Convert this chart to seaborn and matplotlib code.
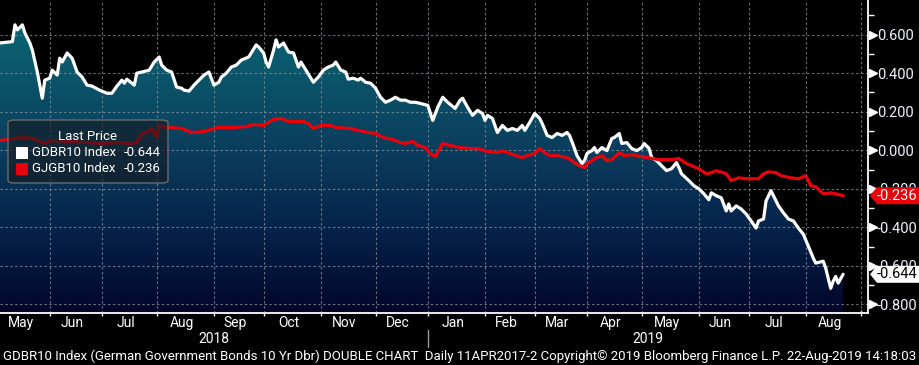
import numpy as np
import pandas as pd
import matplotlib
matplotlib.use("Agg")
import matplotlib.pyplot as plt
import matplotlib.transforms as mtransforms
from matplotlib.patches import Polygon, FancyBboxPatch, Rectangle
from matplotlib.colors import LinearSegmentedColormap
import seaborn as sns

# ---------------- data ----------------
gdbr_dates = [
    "2018-05-04", "2018-05-08", "2018-05-11", "2018-05-14", "2018-05-15", "2018-05-17", "2018-05-18",
    "2018-05-22", "2018-05-23", "2018-05-25", "2018-05-29", "2018-05-30", "2018-06-01", "2018-06-04",
    "2018-06-06", "2018-06-07", "2018-06-08", "2018-06-12", "2018-06-14", "2018-06-18", "2018-06-20",
    "2018-06-22", "2018-06-26", "2018-06-29", "2018-07-04", "2018-07-06", "2018-07-10", "2018-07-12",
    "2018-07-13", "2018-07-16", "2018-07-18", "2018-07-19", "2018-07-20", "2018-07-24", "2018-07-27",
    "2018-07-31", "2018-08-02", "2018-08-03", "2018-08-07", "2018-08-09", "2018-08-13", "2018-08-15",
    "2018-08-16", "2018-08-20", "2018-08-22", "2018-08-24", "2018-08-28", "2018-08-30", "2018-09-03",
    "2018-09-05", "2018-09-06", "2018-09-10", "2018-09-12", "2018-09-14", "2018-09-18", "2018-09-21",
    "2018-09-24", "2018-09-26", "2018-09-27", "2018-10-01", "2018-10-02", "2018-10-03", "2018-10-05",
    "2018-10-08", "2018-10-09", "2018-10-11", "2018-10-15", "2018-10-17", "2018-10-19", "2018-10-22",
    "2018-10-24", "2018-10-29", "2018-10-31", "2018-11-02", "2018-11-06", "2018-11-08", "2018-11-09",
    "2018-11-13", "2018-11-15", "2018-11-16", "2018-11-20", "2018-11-22", "2018-11-23", "2018-11-27",
    "2018-11-29", "2018-12-03", "2018-12-05", "2018-12-07", "2018-12-11", "2018-12-13", "2018-12-17",
    "2018-12-19", "2018-12-21", "2018-12-25", "2018-12-27", "2019-01-01", "2019-01-03", "2019-01-07",
    "2019-01-09", "2019-01-11", "2019-01-16", "2019-01-18", "2019-01-21", "2019-01-23", "2019-01-25",
    "2019-01-29", "2019-01-31", "2019-02-01", "2019-02-04", "2019-02-06", "2019-02-08", "2019-02-12",
    "2019-02-14", "2019-02-18", "2019-02-20", "2019-02-22", "2019-02-25", "2019-02-27", "2019-03-01",
    "2019-03-05", "2019-03-06", "2019-03-08", "2019-03-12", "2019-03-14", "2019-03-18", "2019-03-20",
    "2019-03-21", "2019-03-25", "2019-03-26", "2019-03-28", "2019-03-29", "2019-04-01", "2019-04-03",
    "2019-04-04", "2019-04-05", "2019-04-09", "2019-04-11", "2019-04-15", "2019-04-16", "2019-04-18",
    "2019-04-19", "2019-04-23", "2019-04-25", "2019-04-29", "2019-05-01", "2019-05-02", "2019-05-06",
    "2019-05-07", "2019-05-09", "2019-05-13", "2019-05-15", "2019-05-17", "2019-05-21", "2019-05-22",
    "2019-05-23", "2019-05-28", "2019-05-30", "2019-06-03", "2019-06-05", "2019-06-07", "2019-06-10",
    "2019-06-12", "2019-06-14", "2019-06-18", "2019-06-19", "2019-06-20", "2019-06-24", "2019-06-26",
    "2019-06-28", "2019-07-02", "2019-07-04", "2019-07-05", "2019-07-09", "2019-07-10", "2019-07-12",
    "2019-07-15", "2019-07-17", "2019-07-19", "2019-07-23", "2019-07-25", "2019-07-29", "2019-07-31",
    "2019-08-02", "2019-08-06", "2019-08-07", "2019-08-12", "2019-08-13", "2019-08-15", "2019-08-16",
    "2019-08-19", "2019-08-20", "2019-08-22",
]
gdbr_values = [
    0.557, 0.560, 0.564, 0.651, 0.625, 0.651, 0.609,
    0.557, 0.520, 0.406, 0.270, 0.364, 0.374, 0.416,
    0.390, 0.478, 0.458, 0.505, 0.478, 0.406, 0.380,
    0.338, 0.333, 0.312, 0.296, 0.296, 0.333, 0.364,
    0.348, 0.369, 0.348, 0.338, 0.400, 0.406, 0.416,
    0.458, 0.484, 0.442, 0.416, 0.406, 0.328, 0.322,
    0.312, 0.307, 0.338, 0.364, 0.390, 0.406, 0.338,
    0.353, 0.380, 0.400, 0.432, 0.442, 0.468, 0.484,
    0.505, 0.547, 0.536, 0.505, 0.458, 0.432, 0.520,
    0.573, 0.536, 0.557, 0.510, 0.505, 0.432, 0.458,
    0.416, 0.353, 0.380, 0.416, 0.432, 0.442, 0.458,
    0.416, 0.406, 0.369, 0.374, 0.364, 0.374, 0.353,
    0.348, 0.322, 0.275, 0.249, 0.260, 0.275, 0.260,
    0.260, 0.249, 0.249, 0.243, 0.233, 0.155, 0.223,
    0.275, 0.249, 0.217, 0.260, 0.270, 0.223, 0.181,
    0.207, 0.191, 0.155, 0.181, 0.165, 0.092, 0.129,
    0.103, 0.113, 0.103, 0.129, 0.103, 0.145, 0.191,
    0.165, 0.139, 0.077, 0.066, 0.087, 0.077, 0.092,
    0.077, 0.009, -0.028, -0.069, -0.054, -0.017, -0.002,
    0.014, -0.012, 0.014, -0.002, 0.061, 0.066, 0.087,
    0.035, 0.040, 0.009, -0.002, 0.014, 0.035, 0.009,
    -0.038, -0.054, -0.080, -0.106, -0.096, -0.064, -0.090,
    -0.122, -0.158, -0.184, -0.200, -0.226, -0.257, -0.221,
    -0.236, -0.247, -0.315, -0.279, -0.315, -0.289, -0.305,
    -0.331, -0.367, -0.404, -0.367, -0.357, -0.263, -0.210,
    -0.236, -0.289, -0.325, -0.357, -0.367, -0.404, -0.436,
    -0.498, -0.560, -0.586, -0.576, -0.612, -0.717, -0.680,
    -0.655, -0.690, -0.644,
]
gjgb_dates = [
    "2018-05-04", "2018-05-10", "2018-05-17", "2018-05-23", "2018-05-30", "2018-06-04", "2018-06-12",
    "2018-06-22", "2018-06-29", "2018-07-10", "2018-07-18", "2018-07-20", "2018-07-24", "2018-07-26",
    "2018-07-30", "2018-08-01", "2018-08-02", "2018-08-06", "2018-08-09", "2018-08-15", "2018-08-21",
    "2018-08-28", "2018-09-03", "2018-09-05", "2018-09-13", "2018-09-20", "2018-09-25", "2018-10-01",
    "2018-10-05", "2018-10-10", "2018-10-15", "2018-10-23", "2018-10-25", "2018-10-29", "2018-11-01",
    "2018-11-07", "2018-11-09", "2018-11-19", "2018-11-26", "2018-12-03", "2018-12-06", "2018-12-12",
    "2018-12-17", "2018-12-19", "2018-12-24", "2018-12-26", "2018-12-31", "2019-01-02", "2019-01-04",
    "2019-01-09", "2019-01-14", "2019-01-18", "2019-01-24", "2019-01-29", "2019-02-04", "2019-02-08",
    "2019-02-12", "2019-02-15", "2019-02-22", "2019-02-26", "2019-03-01", "2019-03-05", "2019-03-07",
    "2019-03-11", "2019-03-14", "2019-03-20", "2019-03-25", "2019-03-27", "2019-03-29", "2019-04-01",
    "2019-04-03", "2019-04-05", "2019-04-09", "2019-04-11", "2019-04-15", "2019-04-18", "2019-04-22",
    "2019-04-25", "2019-05-03", "2019-05-10", "2019-05-17", "2019-05-22", "2019-05-27", "2019-05-29",
    "2019-06-03", "2019-06-06", "2019-06-10", "2019-06-12", "2019-06-18", "2019-06-20", "2019-06-25",
    "2019-06-28", "2019-07-02", "2019-07-05", "2019-07-09", "2019-07-11", "2019-07-16", "2019-07-18",
    "2019-07-24", "2019-07-29", "2019-08-01", "2019-08-05", "2019-08-07", "2019-08-12", "2019-08-15",
    "2019-08-19", "2019-08-22",
]
gjgb_values = [
    0.051, 0.056, 0.066, 0.061, 0.035, 0.051, 0.046,
    0.040, 0.035, 0.040, 0.035, 0.040, 0.087, 0.092,
    0.113, 0.066, 0.129, 0.118, 0.118, 0.113, 0.092,
    0.097, 0.113, 0.118, 0.118, 0.123, 0.134, 0.129,
    0.160, 0.165, 0.149, 0.149, 0.139, 0.113, 0.129,
    0.129, 0.118, 0.113, 0.097, 0.087, 0.066, 0.056,
    0.040, 0.035, 0.046, 0.025, 0.014, -0.017, -0.033,
    0.035, 0.025, 0.014, 0.009, 0.009, -0.007, -0.012,
    -0.002, -0.017, -0.038, -0.028, -0.017, 0.009, -0.012,
    -0.028, -0.028, -0.038, -0.064, -0.080, -0.090, -0.069,
    -0.054, -0.038, -0.028, -0.054, -0.049, -0.012, -0.028,
    -0.023, -0.038, -0.049, -0.049, -0.043, -0.069, -0.080,
    -0.096, -0.122, -0.117, -0.106, -0.122, -0.158, -0.143,
    -0.148, -0.148, -0.148, -0.122, -0.112, -0.117, -0.132,
    -0.143, -0.148, -0.132, -0.184, -0.190, -0.226, -0.221,
    -0.226, -0.236,
]
gdbr_name = "GDBR10 Index"
gjgb_name = "GJGB10 Index"
legend_title = "Last Price"
month_starts = [
    "2018-05-01", "2018-06-01", "2018-07-01", "2018-08-01", "2018-09-01", "2018-10-01",
    "2018-11-01", "2018-12-01", "2019-01-01", "2019-02-01", "2019-03-01", "2019-04-01",
    "2019-05-01", "2019-06-01", "2019-07-01", "2019-08-01", "2019-09-01",
]
month_labels = ["May", "Jun", "Jul", "Aug", "Sep", "Oct", "Nov", "Dec",
                "Jan", "Feb", "Mar", "Apr", "May", "Jun", "Jul", "Aug"]
year_labels = ["2018", "2019"]
year_starts = ["2018-01-01", "2019-01-01", "2020-01-01"]
y_ticks = [0.6, 0.4, 0.2, 0.0, -0.2, -0.4, -0.6, -0.8]
y_minor = [0.7, 0.5, 0.3, 0.1, -0.1, -0.3, -0.5, -0.7]
footer = ("GDBR10 Index (German Government Bonds 10 Yr Dbr) DOUBLE CHART  Daily 11APR2017-2 "
          "Copyright\u00a9 2019 Bloomberg Finance L.P. 22-Aug-2019 14:18:03")

# ---------------- helpers ----------------
START = np.datetime64("2018-05-04")


def tday(dates):
    d = np.array(dates, dtype="datetime64[D]")
    d = np.busday_offset(d, 0, roll="forward")
    return np.busday_count(START, d).astype(float)


XMIN, XMAX = 0.0, 349.0
YMIN, YMAX = -0.845, 0.780

df_w = pd.DataFrame({"t": tday(gdbr_dates), "v": gdbr_values})
df_r = pd.DataFrame({"t": tday(gjgb_dates), "v": gjgb_values})

sns.set_theme(style="dark", rc={
    "axes.facecolor": "black", "figure.facecolor": "black",
    "axes.unicode_minus": False, "axes.grid": False,
})
plt.rcParams["font.family"] = ["Roboto", "DejaVu Sans"]
FONT = ["Roboto", "DejaVu Sans"]

fig = plt.figure(figsize=(9.2, 3.65), dpi=100, facecolor="black")
ax = fig.add_axes([0, 52 / 365, 868 / 920, 313 / 365])
ax.set_facecolor("black")

# gradient area under the Bund line
cmap = LinearSegmentedColormap.from_list("bb", [
    (0.00, "#03062a"), (0.27, "#06234a"), (0.52, "#0b3d5d"), (0.88, "#0a6170"), (1.00, "#0c6c78")])
grad = np.linspace(0, 1, 256).reshape(-1, 1)
im = ax.imshow(grad, extent=[XMIN, XMAX, YMIN, YMAX], origin="lower", aspect="auto",
               cmap=cmap, zorder=1, interpolation="bilinear")
poly = ax.fill_between(df_w["t"], df_w["v"], YMIN, facecolor="none", edgecolor="none")
im.set_clip_path(poly.get_paths()[0], transform=ax.transData)

# grid
bounds = tday(month_starts)
grid_kw = dict(color="#8a949e", lw=0.8, ls=(0, (2.2, 2.2)), alpha=0.75, zorder=2)
for y in y_ticks:
    ax.axhline(y, **grid_kw)
for xb in bounds[1:]:
    ax.axvline(xb, **grid_kw)

# lines
sns.lineplot(data=df_w, x="t", y="v", color="white", lw=2.3, ax=ax, zorder=3,
             estimator=None, sort=False)
sns.lineplot(data=df_r, x="t", y="v", color="#e8000b", lw=2.3, ax=ax, zorder=4,
             estimator=None, sort=False)

ax.set_xlim(XMIN, XMAX)
ax.set_ylim(YMIN, YMAX)
ax.set_xlabel("")
ax.set_ylabel("")

# spines
for s in ["top", "left"]:
    ax.spines[s].set_visible(False)
for s in ["right", "bottom"]:
    ax.spines[s].set_visible(True)
    ax.spines[s].set_color("white")
    ax.spines[s].set_linewidth(1.3)

# x ticks at month boundaries
ax.set_xticks(bounds[1:])
ax.tick_params(axis="x", which="major", length=5, width=1, color="white",
               direction="inout", labelbottom=False, bottom=True)

# right axis
ax.yaxis.tick_right()
ax.set_yticks(y_ticks)
ax.set_yticklabels([f"{v:.3f}" for v in y_ticks])
ax.set_yticks(y_minor, minor=True)
ax.tick_params(axis="y", which="major", length=0, pad=6.5, labelcolor="#eef3ff",
               labelsize=10.5, right=True, left=False)
ax.tick_params(axis="y", which="minor", length=4, width=1, color="white",
               direction="out", right=True, left=False)

trans_ay = mtransforms.blended_transform_factory(ax.transAxes, ax.transData)
ax.plot([1 + 4.5 / 868] * len(y_ticks), y_ticks, marker=">", ms=6, color="white", lw=0,
        transform=trans_ay, clip_on=False, zorder=7)

# last value badges
half = 8.5 / 192.6
for val, fc, tc in [(gjgb_values[-1], "#e8000b", "white"), (gdbr_values[-1], "white", "black")]:
    pts = [(1 + 2 / 868, val), (1 + 9 / 868, val + half), (1 + 53 / 868, val + half),
           (1 + 53 / 868, val - half), (1 + 9 / 868, val - half)]
    ax.add_patch(Polygon(pts, closed=True, transform=trans_ay, facecolor=fc,
                         edgecolor="none", clip_on=False, zorder=8))
    ax.text(1 + 29 / 868, val, f"{val:.3f}", transform=trans_ay, ha="center", va="center",
            color=tc, fontsize=10.5, zorder=9, clip_on=False)

# legend box
def axp(px, py):
    return px / 868, 1 - py / 313

lx, ly = axp(8, 183)
box = FancyBboxPatch((lx, ly), 160 / 868, 63 / 313, boxstyle="round,pad=0,rounding_size=0.008",
                     transform=ax.transAxes, facecolor=(0.09, 0.10, 0.12, 0.6),
                     edgecolor=(0.42, 0.42, 0.42, 1.0), lw=1.0, zorder=6)
ax.add_patch(box)
ax.text(*axp(88, 137), legend_title, transform=ax.transAxes, ha="center", va="center",
        color="white", fontsize=9.5, zorder=7)
for py, col, name, val in [(153, "white", gdbr_name, gdbr_values[-1]),
                           (169, "#e8000b", gjgb_name, gjgb_values[-1])]:
    rx, ry = axp(16, py + 6)
    ax.add_patch(Rectangle((rx, ry), 12 / 868, 12 / 313, transform=ax.transAxes,
                           facecolor=col, edgecolor="none", zorder=7))
    ax.text(*axp(32, py), name, transform=ax.transAxes, ha="left", va="center",
            color="white", fontsize=9.5, zorder=7)
    ax.text(*axp(161, py), f"{val:.3f}", transform=ax.transAxes, ha="right", va="center",
            color="white", fontsize=9.5, zorder=7)

# month & year labels
trans_xf = mtransforms.blended_transform_factory(ax.transData, fig.transFigure)
for i, lab in enumerate(month_labels):
    a = max(bounds[i], XMIN)
    b = min(bounds[i + 1], XMAX)
    ax.text((a + b) / 2 - 1.5, 1 - 323 / 365, lab, transform=trans_xf, ha="center", va="center",
            color="white", fontsize=10, family=FONT, clip_on=False)
ybounds = tday(year_starts)
for i, lab in enumerate(year_labels):
    a = max(ybounds[i], XMIN)
    b = min(ybounds[i + 1], XMAX)
    ax.text((a + b) / 2, 1 - 339 / 365, lab, transform=trans_xf, ha="center", va="center",
            color="white", fontsize=10, family=FONT, clip_on=False)
sep = ybounds[1]
ax.plot([sep, sep], [1 - 330 / 365, 1 - 347 / 365], transform=trans_xf, color="#9a9a9a",
        lw=1, clip_on=False)

fig.text(3 / 920, 1 - 356 / 365, footer, ha="left", va="center", color="white",
         fontsize=9.5, family=FONT)

fig.savefig("out.png", dpi=100, facecolor="black")
